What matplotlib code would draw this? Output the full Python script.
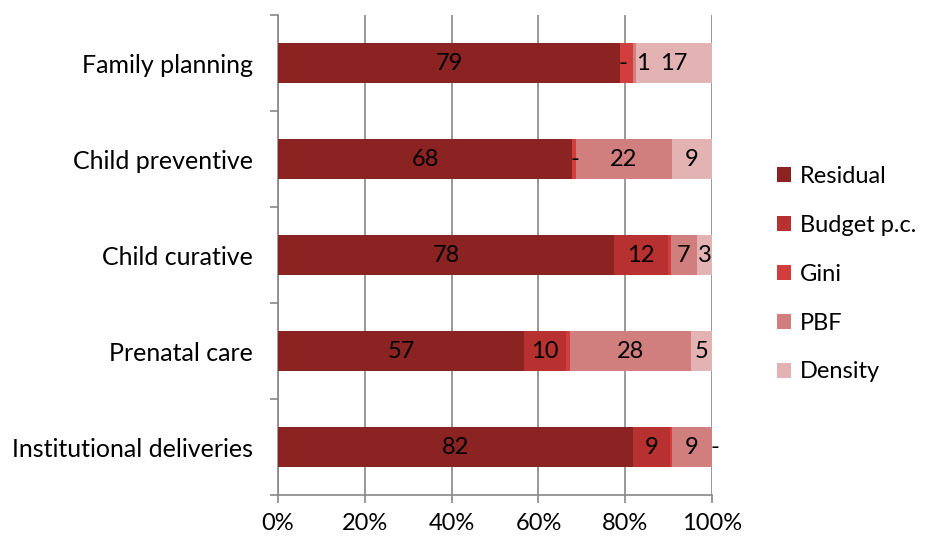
import matplotlib.pyplot as plt
import numpy as np

# categories top to bottom
categories = ["Family planning", "Child preventive", "Child curative",
              "Prenatal care", "Institutional deliveries"]

series = ["Residual", "Budget p.c.", "Gini", "PBF", "Density"]

# shares (%) per category
residual = [78.8, 67.7, 77.4, 56.7, 81.8]
budget = [0.0, 0.0, 12.5, 9.7, 8.6]
gini = [3.0, 0.9, 0.6, 0.8, 0.4]
pbf = [0.7, 22.1, 6.1, 27.9, 9.2]
density = [17.5, 9.3, 3.4, 4.9, 0.0]

# data labels as printed on the chart ('' = no label)
residual_lbl = ["79", "68", "78", "57", "82"]
budget_lbl = ["-", "", "12", "10", "9"]
gini_lbl = ["", "-", "", "", ""]
pbf_lbl = ["1", "22", "7", "28", "9"]
density_lbl = ["17", "9", "3", "5", "-"]

colors = ["#8c2323", "#b73131", "#d23d3d", "#d07e7e", "#e3b3b3"]

values = [residual, budget, gini, pbf, density]
labels = [residual_lbl, budget_lbl, gini_lbl, pbf_lbl, density_lbl]

plt.rcParams['font.family'] = ['Lato', 'DejaVu Sans']
FS = 17

fig = plt.figure(figsize=(9.28, 5.44), dpi=100)
ax = fig.add_axes([0.2996, 0.09, 0.4677, 0.8824])

y = np.arange(len(categories))[::-1]
left = np.zeros(len(categories))
for name, vals, lbls, col in zip(series, values, labels, colors):
    vals = np.array(vals)
    ax.barh(y, vals, height=0.42, left=left, color=col, label=name, zorder=3)
    for yi, l, v, t in zip(y, left, vals, lbls):
        if not t:
            continue
        xc, ha = l + v / 2, 'center'
        if t == "-":
            xc = l + max(v / 2, 0.7)
        elif v < 1.5:
            xc, ha = l + v, 'left'
        ax.text(xc, yi, t, ha=ha, va='center', fontsize=FS,
                color='black', zorder=4)
    left += vals

ax.set_xlim(0, 100)
ax.set_ylim(-0.5, len(categories) - 0.5)
ax.set_xticks(np.arange(0, 101, 20))
ax.set_xticklabels([f"{v}%" for v in range(0, 101, 20)], fontsize=FS)
ax.set_yticks(y)
ax.set_yticklabels(categories, fontsize=18)
ax.set_yticks(np.arange(-0.5, len(categories), 1), minor=True)
ax.tick_params(axis='y', which='major', length=0, pad=18)
ax.tick_params(axis='y', which='minor', length=6, width=1.2, color='#888888')
ax.tick_params(axis='x', length=6, width=1.2, color='#888888', pad=7)

ax.grid(axis='x', color='#888888', linewidth=1.2, zorder=0)
for s in ['top', 'right']:
    ax.spines[s].set_visible(False)
for s in ['left', 'bottom']:
    ax.spines[s].set_color('#888888')
    ax.spines[s].set_linewidth(1.2)

ax.legend(loc='center left', bbox_to_anchor=(1.1, 0.46), frameon=False,
          fontsize=FS, handlelength=0.6, handleheight=0.6, labelspacing=1.18,
          handletextpad=0.4)

fig.savefig("out.png", dpi=100)
